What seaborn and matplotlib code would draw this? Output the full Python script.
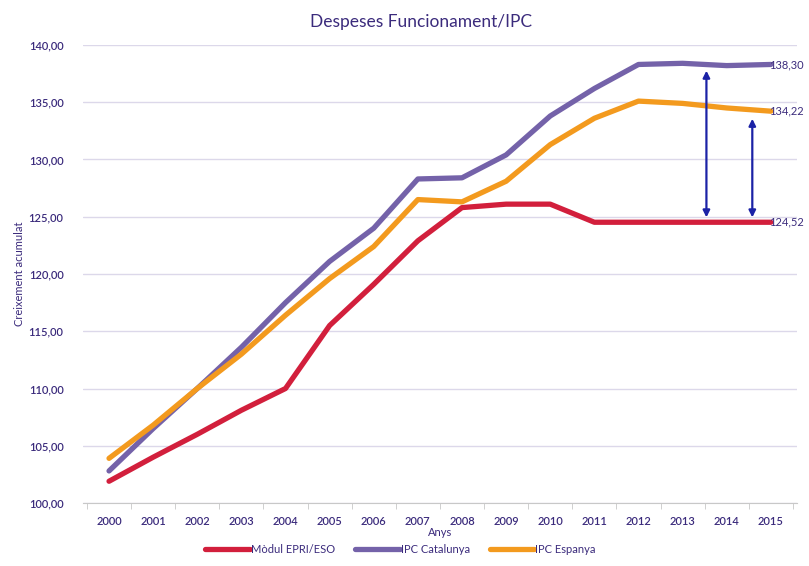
import numpy as np
import pandas as pd
import matplotlib
matplotlib.use('Agg')
import matplotlib.pyplot as plt
from matplotlib.ticker import FuncFormatter, FixedLocator
import seaborn as sns

years = [str(y) for y in range(2000, 2016)]
modul = [101.9, 104.0, 106.0, 108.1, 110.0, 115.5, 119.1, 122.9, 125.8, 126.1,
         126.1, 124.52, 124.52, 124.52, 124.52, 124.52]
ipc_cat = [102.8, 106.5, 110.0, 113.6, 117.5, 121.1, 124.0, 128.3, 128.4, 130.4,
           133.8, 136.2, 138.3, 138.4, 138.2, 138.30]
ipc_esp = [103.9, 106.8, 110.0, 113.0, 116.4, 119.6, 122.4, 126.5, 126.3, 128.1,
           131.3, 133.6, 135.1, 134.9, 134.5, 134.22]
series = ['Mòdul EPRI/ESO', 'IPC Catalunya', 'IPC Espanya']
end_labels = ['124,52', '138,30', '134,22']

palette = {'Mòdul EPRI/ESO': '#d21f3c', 'IPC Catalunya': '#7462a9', 'IPC Espanya': '#f39a1e'}
txt = '#3b2b7c'

df = pd.DataFrame({
    'x': list(range(len(years))) * 3,
    'valor': modul + ipc_cat + ipc_esp,
    'serie': [s for s in series for _ in years],
})

sns.set_style('white')
plt.rcParams['font.family'] = ['Lato', 'DejaVu Sans']

fig = plt.figure(figsize=(8.09, 5.66), dpi=100)
ax = fig.add_axes([0.1026, 0.1113, 0.8824, 0.8092])

sns.lineplot(data=df, x='x', y='valor', hue='serie', hue_order=series,
             palette=palette, linewidth=3.8, ax=ax, legend=True)

ax.set_ylim(100, 140)
ax.set_xlim(-0.59, 15.59)
ax.set_yticks(np.arange(100, 141, 5))
ax.yaxis.set_major_formatter(FuncFormatter(lambda v, p: f'{v:.2f}'.replace('.', ',')))
ax.set_xticks(range(len(years)))
ax.set_xticklabels(years)
ax.xaxis.set_minor_locator(FixedLocator(np.arange(-0.5, 16, 1)))
ax.tick_params(axis='x', which='major', length=0, pad=9, labelsize=8, labelcolor=txt)
ax.tick_params(axis='x', which='minor', length=4, color='#c8c8c8', bottom=True)
ax.tick_params(axis='y', length=0, pad=14, labelsize=8, labelcolor=txt)
for lab in ax.get_xticklabels() + ax.get_yticklabels():
    lab.set_fontweight('semibold')
ax.grid(axis='y', color='#dcd8ea', linewidth=1)
for s in ['top', 'right', 'left']:
    ax.spines[s].set_visible(False)
ax.spines['bottom'].set_color('#c8c8c8')

ax.set_ylabel('Creixement acumulat', fontsize=8, color=txt, labelpad=3)
ax.set_xlabel('Anys', fontsize=8, color=txt, labelpad=0)
fig.suptitle('Despeses Funcionament/IPC', x=0.52, y=0.975, fontsize=12.5, color=txt)

# end-of-line value labels
for vals, lab in zip([modul, ipc_cat, ipc_esp], end_labels):
    ax.text(len(years) - 1 - 0.05, vals[-1], lab, fontsize=8, color=txt,
            ha='left', va='center', clip_on=False)

# double arrows
ax.annotate('', xy=(13.54, 138.0), xytext=(13.54, 124.7),
            arrowprops=dict(arrowstyle='<|-|>', color='#1b22a6', lw=1.6, mutation_scale=10))
ax.annotate('', xy=(14.58, 133.8), xytext=(14.58, 124.7),
            arrowprops=dict(arrowstyle='<|-|>', color='#1b22a6', lw=1.6, mutation_scale=10))

leg = ax.legend(loc='upper center', bbox_to_anchor=(0.445, -0.068), ncol=3, frameon=False,
                fontsize=8, handlelength=4, handletextpad=0.1, columnspacing=1.8)
for t in leg.get_texts():
    t.set_color(txt)
for h in leg.get_lines():
    h.set_linewidth(3.8)

fig.savefig('out.png', dpi=100)
